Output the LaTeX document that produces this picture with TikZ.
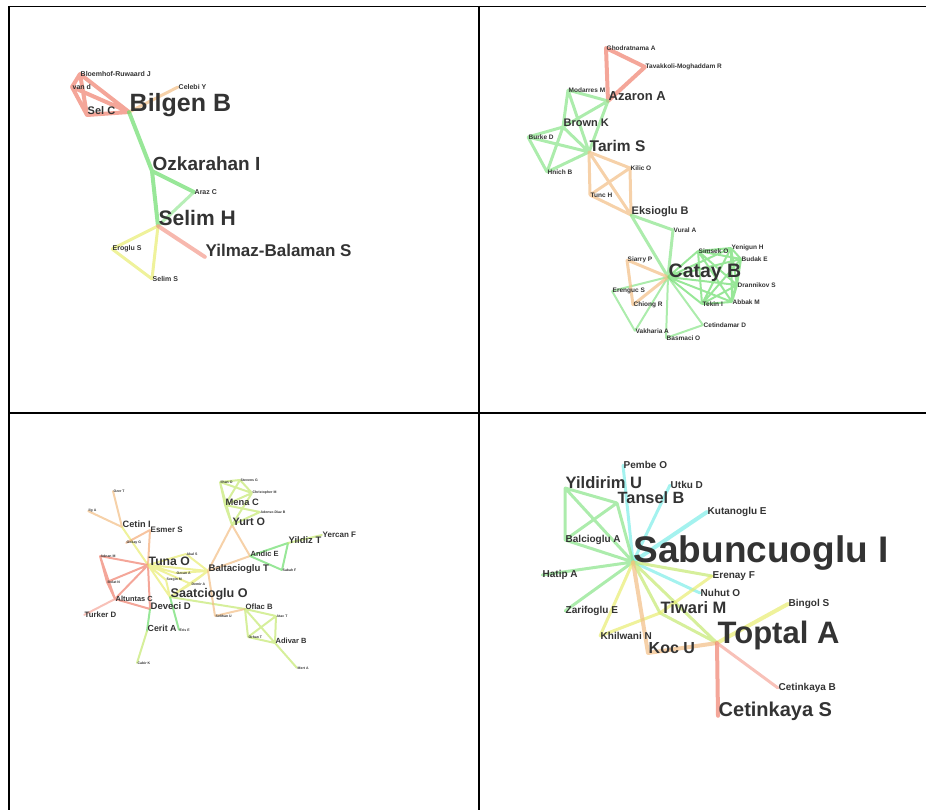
\documentclass[tikz,border=0pt]{standalone}
\usepackage{fontspec}
\setmainfont{Liberation Sans}
\usetikzlibrary{backgrounds}

\definecolor{tRed}{HTML}{F0806E}
\definecolor{tGreen}{HTML}{6CDD6C}
\definecolor{tYellow}{HTML}{E8EC70}
\definecolor{tOrange}{HTML}{F2BE84}
\definecolor{tCyan}{HTML}{7EEDE8}
\definecolor{tLime}{HTML}{C4E870}
\definecolor{txt}{HTML}{333333}

\newcommand{\fs}[1]{\fontsize{#1}{#1}\selectfont\bfseries}

\begin{document}
\begin{tikzpicture}[x=1pt,y=-1pt,
	au/.style={inner sep=0pt,minimum size=0pt},
	nm/.style={text=txt,inner sep=0.3pt,font=\fs{#1}},
	big/.style={nm=#1,anchor=base west},
	tie/.style={line width=#1,line cap=round,opacity=.7},
	tie/.default=3pt]

	\useasboundingbox (0,0) rectangle (926,810);

	% table rules
	\draw[line width=1.1pt] (9,6.5) -- (926,6.5);
	\draw[line width=1.8pt] (386,6.5) -- (475,6.5) (804,6.5) -- (926,6.5);
	\draw[line width=1.1pt] (9,6) -- (9,810) (479,6) -- (479,810);
	\draw[line width=2pt] (9,413) -- (926,413);

	% upper left
	\node[au,label={[nm=7]0:Bloemhof-Ruwaard J}] (bloem) at (80,74) {};
	\node[au,label={[nm=7]0:van d}] (vand) at (72,87) {};
	\node[au,label={[big=11]0:Sel C}] (sel) at (87,115) {};
	\node[au,label={[big=25]0:Bilgen B}] (bilgen) at (129,112) {};
	\node[au,label={[nm=7]0:Celebi Y}] (celebi) at (178,87) {};
	\node[au,label={[big=19]0:Ozkarahan I}] (ozk) at (152,171) {};
	\node[au,label={[nm=7]0:Araz C}] (araz) at (194,192) {};
	\node[au,label={[big=21]0:Selim H}] (selimh) at (158,226) {};
	\node[au,label={[nm=7]0:Eroglu S}] (eroglu) at (112,249) {};
	\node[au,label={[nm=7]0:Selim S}] (selims) at (152,279) {};
	\node[au,label={[big=17]0:Yilmaz-Balaman S}] (yilmaz) at (205,257) {};

	% upper right
	\node[au,label={[nm=6.5]0:Ghodratnama A}] (ghod) at (606,48) {};
	\node[au,label={[nm=6.5]0:Tavakkoli-Moghaddam R}] (tava) at (645,67) {};
	\node[au,label={[big=13]0:Azaron A}] (azaron) at (608,101) {};
	\node[au,label={[nm=6.5]0:Modarres M}] (modarres) at (568,90) {};
	\node[au,label={[big=11]0:Brown K}] (brown) at (563,127) {};
	\node[au,label={[nm=6.5]0:Burke D}] (burke) at (528,137) {};
	\node[au,label={[big=15.5]0:Tarim S}] (tarim) at (589,152) {};
	\node[au,label={[nm=6.5]0:Hnich B}] (hnich) at (547,172) {};
	\node[au,label={[nm=6.5]0:Kilic O}] (kilic) at (630,168) {};
	\node[au,label={[nm=6.5]0:Tunc H}] (tunc) at (590,195) {};
	\node[au,label={[big=11]0:Eksioglu B}] (eksioglu) at (631,215) {};
	\node[au,label={[nm=6.5]0:Vural A}] (vural) at (673,230) {};
	\node[au,label={[big=19.5]0:Catay B}] (catay) at (668,277) {};
	\node[au,label={[nm=6.5]0:Simsek O}] (simsek) at (698,251) {};
	\node[au,label={[nm=6.5]0:Yenigun H}] (yenigun) at (731,248) {};
	\node[au,label={[nm=6.5]0:Budak E}] (budak) at (741,259) {};
	\node[au,label={[nm=6.5]0:Drannikov S}] (dran) at (737,285) {};
	\node[au,label={[nm=6.5]0:Abbak M}] (abbak) at (732,302) {};
	\node[au,label={[nm=6.5]0:Tekin I}] (tekin) at (702,304) {};
	\node[au,label={[nm=6.5]0:Cetindamar D}] (cetindamar) at (703,325) {};
	\node[au,label={[nm=6.5]0:Basmaci O}] (basmaci) at (666,338) {};
	\node[au,label={[nm=6.5]0:Vakharia A}] (vakharia) at (635,331) {};
	\node[au,label={[nm=6.5]0:Chiong R}] (chiong) at (633,305) {};
	\node[au,label={[nm=6.5]0:Erenguc S}] (erenguc) at (612,291) {};
	\node[au,label={[nm=6.5]0:Siarry P}] (siarry) at (627,260) {};

	% lower left
	\node[au,label={[nm=3.5]0:Ozer T}] (ozer) at (113,491) {};
	\node[au,label={[nm=3.5]0:Ilg A}] (ilg) at (88,511) {};
	\node[au,label={[big=9.2]0:Cetin I}] (cetin) at (122,527) {};
	\node[au,label={[nm=8]0:Esmer S}] (esmer) at (150,530) {};
	\node[au,label={[nm=3.5]0:Gokay G}] (gokay) at (126,543) {};
	\node[au,label={[nm=3.5]0:Adnan M}] (adnan) at (100,556) {};
	\node[au,label={[nm=3.5]0:Akal S}] (akal) at (186,554) {};
	\node[au,label={[big=12.2]0:Tuna O}] (tuna) at (148,565) {};
	\node[au,label={[nm=3.5]0:Ozcan A}] (ozcan) at (176,573) {};
	\node[au,label={[nm=3.5]0:Sezgin M}] (sezgin) at (166,580) {};
	\node[au,label={[nm=3.5]0:Bolat N}] (bolat) at (107,582) {};
	\node[au,label={[nm=3.5]0:Demir A}] (demir) at (191,584) {};
	\node[au,label={[big=9.6]0:Baltacioglu T}] (baltac) at (208,571) {};
	\node[au,label={[big=12.6]0:Saatcioglu O}] (saatc) at (170,597) {};
	\node[au,label={[nm=7.4]0:Altuntas C}] (altuntas) at (115,599) {};
	\node[au,label={[big=9.5]0:Deveci D}] (deveci) at (150,609) {};
	\node[au,label={[nm=7.8]0:Turker D}] (turker) at (84,615) {};
	\node[au,label={[big=8.8]0:Cerit A}] (cerit) at (147,631) {};
	\node[au,label={[nm=3.5]0:Eris E}] (eris) at (179,630) {};
	\node[au,label={[nm=3.5]0:Cabir K}] (cabir) at (137,663) {};
	\node[au,label={[nm=3.5]0:Ilhan O}] (ilhan) at (220,482) {};
	\node[au,label={[nm=3.5]0:Stevens G}] (stevens) at (240,480) {};
	\node[au,label={[nm=3.5]0:Christopher M}] (christ) at (252,493) {};
	\node[au,label={[big=9.3]0:Mena C}] (mena) at (225,505) {};
	\node[au,label={[nm=3.5]0:Adenso-Diaz B}] (adenso) at (260,512) {};
	\node[au,label={[big=10.8]0:Yurt O}] (yurt) at (232,525) {};
	\node[au,label={[big=9.4]0:Yildiz T}] (yildiz) at (288,543) {};
	\node[au,label={[nm=8]0:Yercan F}] (yercan) at (322,535) {};
	\node[au,label={[big=7.5]0:Andic E}] (andic) at (250,556) {};
	\node[au,label={[nm=3.5]0:Sabah F}] (sabah) at (282,570) {};
	\node[au,label={[big=7.7]0:Oflac B}] (oflac) at (245,609) {};
	\node[au,label={[nm=3.5]0:Selihan U}] (selihan) at (215,616) {};
	\node[au,label={[nm=3.5]0:Atac T}] (atac) at (276,616) {};
	\node[au,label={[nm=3.5]0:Orhan T}] (orhan) at (248,637) {};
	\node[au,label={[big=7.5]0:Adivar B}] (adivar) at (275,643) {};
	\node[au,label={[nm=3.5]0:Mert A}] (mert) at (297,668) {};

	% lower right
	\node[au,label={[nm=10]0:Pembe O}] (pembe) at (623,465) {};
	\node[au,label={[nm=10]0:Utku D}] (utku) at (670,485) {};
	\node[au,label={[big=16.5]0:Yildirim U}] (yildirim) at (565,488) {};
	\node[au,label={[big=16.3]0:Tansel B}] (tansel) at (617,503) {};
	\node[au,label={[nm=10]0:Kutanoglu E}] (kutan) at (707,512) {};
	\node[au,label={[nm=10]0:Balcioglu A}] (balci) at (565,540) {};
	\node[au,label={[big=37]0:Sabuncuoglu I}] (sabunc) at (633,562) {};
	\node[au,label={[nm=10]0:Hatip A}] (hatip) at (542,575) {};
	\node[au,label={[nm=10]0:Erenay F}] (erenay) at (712,576) {};
	\node[au,label={[nm=10]0:Nuhut O}] (nuhut) at (700,593) {};
	\node[au,label={[nm=10]0:Zarifoglu E}] (zarif) at (565,611) {};
	\node[au,label={[big=16.5]0:Tiwari M}] (tiwari) at (660,613) {};
	\node[au,label={[nm=10]0:Bingol S}] (bingol) at (788,604) {};
	\node[au,label={[nm=10]0:Khilwani N}] (khil) at (600,636) {};
	\node[au,label={[big=31]0:Toptal A}] (toptal) at (717,643) {};
	\node[au,label={[big=16]0:Koc U}] (koc) at (648,653) {};
	\node[au,label={[nm=10]0:Cetinkaya B}] (cetb) at (778,688) {};
	\node[au,label={[big=20]0:Cetinkaya S}] (cets) at (718,716) {};

	\begin{pgfonlayer}{background}
	% upper left ties
	\draw[tie=4pt,tRed] (bloem) -- (vand) (bloem) -- (sel) (bloem) -- (bilgen)
		(vand) -- (sel) (vand) -- (bilgen) (sel) -- (bilgen);
	\draw[tie,tOrange] (bilgen) -- (celebi);
	\draw[tie=4pt,tGreen] (bilgen) -- (ozk) (ozk) -- (selimh) (ozk) -- (araz);
	\draw[tie,tGreen!70!white] (araz) -- (selimh);
	\draw[tie,tYellow] (selimh) -- (eroglu) (selimh) -- (selims) (eroglu) -- (selims);
	\draw[tie=4pt,tRed!80!white] (selimh) -- (yilmaz);

	% upper right ties
	\draw[tie=4pt,tRed] (ghod) -- (tava) (ghod) -- (azaron) (tava) -- (azaron);
	\draw[tie,tGreen!80!white] (modarres) -- (azaron) (modarres) -- (brown)
		(modarres) -- (tarim) (azaron) -- (brown) (azaron) -- (tarim)
		(brown) -- (burke) (brown) -- (hnich) (brown) -- (tarim)
		(burke) -- (tarim) (burke) -- (hnich) (hnich) -- (tarim);
	\draw[tie,tOrange] (tarim) -- (kilic) (tarim) -- (tunc) (tarim) -- (eksioglu)
		(kilic) -- (tunc) (kilic) -- (eksioglu) (tunc) -- (eksioglu);
	\draw[tie,tGreen!80!white] (eksioglu) -- (vural) (eksioglu) -- (catay)
		(vural) -- (catay);
	\draw[tie=2pt,tGreen!80!white] (catay) -- (erenguc) (erenguc) -- (vakharia)
		(vakharia) -- (catay) (basmaci) -- (catay) (basmaci) -- (cetindamar)
		(cetindamar) -- (catay);
	\draw[tie,tOrange] (catay) -- (siarry) (siarry) -- (chiong) (chiong) -- (catay);
	\draw[tie=2pt,tGreen] (catay) -- (simsek) (catay) -- (yenigun) (catay) -- (budak)
		(catay) -- (dran) (catay) -- (abbak) (catay) -- (tekin)
		(simsek) -- (yenigun) (simsek) -- (budak) (simsek) -- (dran)
		(simsek) -- (abbak) (simsek) -- (tekin) (yenigun) -- (budak)
		(yenigun) -- (dran) (yenigun) -- (abbak) (yenigun) -- (tekin)
		(budak) -- (dran) (budak) -- (abbak) (budak) -- (tekin)
		(dran) -- (abbak) (dran) -- (tekin) (abbak) -- (tekin);

	% lower left ties
	\draw[tie=2pt,tOrange] (ozer) -- (cetin) (ilg) -- (cetin);
	\draw[tie=2pt,tYellow] (cetin) -- (tuna);
	\draw[tie=2pt,tOrange!90!red] (gokay) -- (esmer) (esmer) -- (tuna);
	\draw[tie=2pt,tRed] (adnan) -- (tuna) (adnan) -- (bolat) (adnan) -- (altuntas)
		(bolat) -- (tuna) (bolat) -- (altuntas) (altuntas) -- (tuna)
		(altuntas) -- (deveci) (tuna) -- (deveci);
	\draw[tie=2pt,tRed!70!white] (turker) -- (altuntas);
	\draw[tie=2pt,tYellow] (tuna) -- (akal) (tuna) -- (ozcan) (tuna) -- (sezgin)
		(tuna) -- (baltac) (tuna) -- (saatc) (tuna) -- (demir)
		(akal) -- (baltac) (ozcan) -- (baltac) (demir) -- (baltac)
		(saatc) -- (baltac) (sezgin) -- (saatc) (demir) -- (saatc);
	\draw[tie=2pt,tGreen] (deveci) -- (cerit) (saatc) -- (eris);
	\draw[tie=2pt,tLime] (cerit) -- (cabir) (saatc) -- (oflac);
	\draw[tie=2pt,tOrange] (baltac) -- (yurt) (baltac) -- (andic) (yurt) -- (andic)
		(baltac) -- (selihan) (selihan) -- (oflac);
	\draw[tie=2pt,tLime] (ilhan) -- (stevens) (ilhan) -- (christ) (ilhan) -- (mena)
		(ilhan) -- (yurt) (stevens) -- (mena) (stevens) -- (christ)
		(christ) -- (mena) (christ) -- (yurt) (mena) -- (adenso)
		(mena) -- (yurt) (yurt) -- (adenso);
	\draw[tie=2pt,tGreen] (andic) -- (yildiz) (andic) -- (sabah) (yildiz) -- (sabah);
	\draw[tie=2pt,tLime] (yildiz) -- (yercan);
	\draw[tie=2pt,tLime] (oflac) -- (atac) (oflac) -- (orhan) (oflac) -- (adivar)
		(atac) -- (orhan) (atac) -- (adivar) (orhan) -- (adivar)
		(adivar) -- (mert);

	% lower right ties
	\draw[tie,tCyan] (pembe) -- (sabunc) (utku) -- (sabunc) (nuhut) -- (sabunc);
	\draw[tie=4pt,tCyan] (kutan) -- (sabunc);
	\draw[tie,tGreen!80!white] (yildirim) -- (tansel) (yildirim) -- (balci)
		(yildirim) -- (sabunc) (tansel) -- (balci) (tansel) -- (sabunc)
		(balci) -- (sabunc) (hatip) -- (sabunc) (zarif) -- (sabunc);
	\draw[tie,tLime] (erenay) -- (sabunc) (tiwari) -- (sabunc)
		(tiwari) -- (toptal) (sabunc) -- (toptal);
	\draw[tie,tYellow] (erenay) -- (tiwari) (tiwari) -- (khil) (khil) -- (sabunc);
	\draw[tie=4pt,tOrange] (sabunc) -- (koc) (koc) -- (toptal);
	\draw[tie=4pt,tYellow] (toptal) -- (bingol);
	\draw[tie=4pt,tRed] (toptal) -- (cets);
	\draw[tie,tRed!70!white] (toptal) -- (cetb);
	\end{pgfonlayer}

\end{tikzpicture}
\end{document}
